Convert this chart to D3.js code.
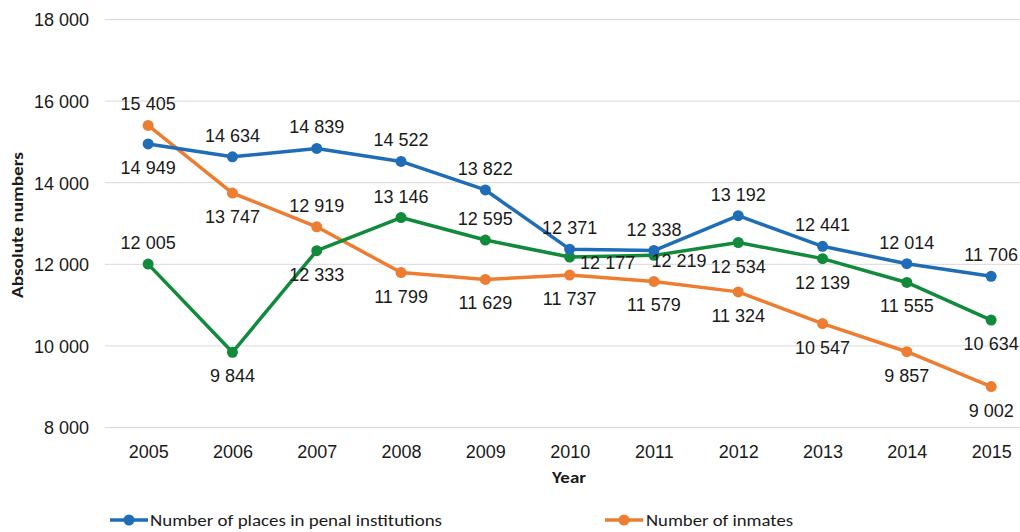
<!DOCTYPE html>
<html>
<head>
<meta charset="utf-8">
<script src="https://cdn.jsdelivr.net/npm/d3@7"></script>
<style>
  html, body { margin: 0; padding: 0; background: #fff; }
  svg { display: block; }
  .num { font-family: "Liberation Sans", Arial, sans-serif; font-size: 18px; fill: #1a1a1a; }
  .cal { font-family: Carlito, "Open Sans", sans-serif; fill: #1a1a1a; }
</style>
</head>
<body>
<svg id="chart" width="1020" height="532"></svg>
<script>
// ---- Data ----
const years = ["2005","2006","2007","2008","2009","2010","2011","2012","2013","2014","2015"];
const placesValues  = [14949, 14634, 14839, 14522, 13822, 12371, 12338, 13192, 12441, 12014, 11706];
const inmatesValues = [15405, 13747, 12919, 11799, 11629, 11737, 11579, 11324, 10547, 9857, 9002];
const thirdValues   = [12005, 9844, 12333, 13146, 12595, 12177, 12219, 12534, 12139, 11555, 10634];
const yTicks = [8000, 10000, 12000, 14000, 16000, 18000];
const seriesNames = ["Number of places in penal institutions", "Number of inmates", ""];

// ---- Label placement (style) ----
const placesLabelPos  = ["below","above","above","above","above","above","above","above","above","above","above"];
const inmatesLabelPos = ["above","below","above","below","below","below","below","below","below","below","below"];
const thirdLabelPos   = ["above","below","below","above","above","right1","right2","below","below","below","below"];

const colors = ["#1f6db6", "#ed7d31", "#118a3b"];

const svg = d3.select("#chart");
const fmt = v => d3.format(",")(v).replace(/,/g, " ");

const x = d3.scalePoint().domain(years).range([106, 1033.3]).padding(0.5);
const y = d3.scaleLinear().domain([8000, 18000]).range([427.5, 19.5]);

// Gridlines
svg.append("g").selectAll("line").data(yTicks).join("line")
  .attr("x1", 105).attr("x2", 1020)
  .attr("y1", d => y(d)).attr("y2", d => y(d))
  .attr("stroke", "#d9d9d9").attr("stroke-width", 1);

// Y axis (labels only)
const yAxis = d3.axisLeft(y).tickValues(yTicks).tickSize(0).tickPadding(0).tickFormat(fmt);
const yg = svg.append("g").attr("transform", "translate(89,0)").call(yAxis)
  .attr("font-family", null).attr("font-size", null);
yg.select(".domain").remove();
yg.selectAll("text").attr("class", "num").attr("fill", null).attr("dy", "0.35em");

// X axis (labels only)
const xAxis = d3.axisBottom(x).tickSize(0).tickPadding(0);
const xg = svg.append("g").attr("transform", "translate(0,458)").call(xAxis)
  .attr("font-family", null).attr("font-size", null);
xg.select(".domain").remove();
xg.selectAll("text").attr("class", "num").attr("fill", null).attr("dy", 0);

// Axis titles
svg.append("text").attr("class", "cal").attr("x", 569).attr("y", 483).attr("text-anchor", "middle")
  .attr("font-weight", "bold").attr("font-size", 15)
  .attr("textLength", 34).attr("lengthAdjust", "spacingAndGlyphs")
  .text("Year");
svg.append("text").attr("class", "cal").attr("transform", "translate(23,225) rotate(-90)").attr("text-anchor", "middle")
  .attr("font-weight", "bold").attr("font-size", 15)
  .attr("textLength", 146).attr("lengthAdjust", "spacingAndGlyphs")
  .text("Absolute numbers");

// Series
const series = [
  { values: placesValues, pos: placesLabelPos, color: colors[0] },
  { values: inmatesValues, pos: inmatesLabelPos, color: colors[1] },
  { values: thirdValues, pos: thirdLabelPos, color: colors[2] }
];

const line = d3.line().x((d, i) => x(years[i])).y(d => y(d));

const drawOrder = [1, 2, 0];
drawOrder.forEach(si => {
  const s = series[si];
  const g = svg.append("g");
  g.append("path").datum(s.values).attr("d", line)
    .attr("fill", "none").attr("stroke", s.color).attr("stroke-width", 3.5)
    .attr("stroke-linejoin", "round");
  g.selectAll("circle").data(s.values).join("circle")
    .attr("cx", (d, i) => x(years[i])).attr("cy", d => y(d)).attr("r", 5.5)
    .attr("fill", s.color);
});

// Labels
series.forEach(s => {
  svg.append("g").selectAll("text").data(s.values).join("text")
    .attr("class", "num")
    .attr("x", (d, i) => {
      const p = s.pos[i];
      const px = x(years[i]);
      if (p === "right1") return px + 38;
      if (p === "right2") return px + 25;
      return px;
    })
    .attr("y", (d, i) => {
      const p = s.pos[i];
      const py = y(d);
      if (p === "above") return py - 15;
      if (p === "below") return py + 30;
      return py + 12;
    })
    .attr("text-anchor", "middle")
    .text(d => fmt(d));
});

// Legend (visible entries)
const legendItems = [
  { name: seriesNames[0], color: colors[0], x0: 110, tx: 150, tw: 292 },
  { name: seriesNames[1], color: colors[1], x0: 605, tx: 646, tw: 147 }
];
const lg = svg.append("g").selectAll("g").data(legendItems).join("g");
lg.append("line").attr("x1", d => d.x0).attr("x2", d => d.x0 + 38)
  .attr("y1", 520).attr("y2", 520).attr("stroke", d => d.color).attr("stroke-width", 3.5);
lg.append("circle").attr("cx", d => d.x0 + 19).attr("cy", 520).attr("r", 5.5).attr("fill", d => d.color);
lg.append("text").attr("class", "cal").attr("x", d => d.tx).attr("y", 526).attr("font-size", 16)
  .attr("textLength", d => d.tw).attr("lengthAdjust", "spacingAndGlyphs")
  .text(d => d.name);
</script>
</body>
</html>
